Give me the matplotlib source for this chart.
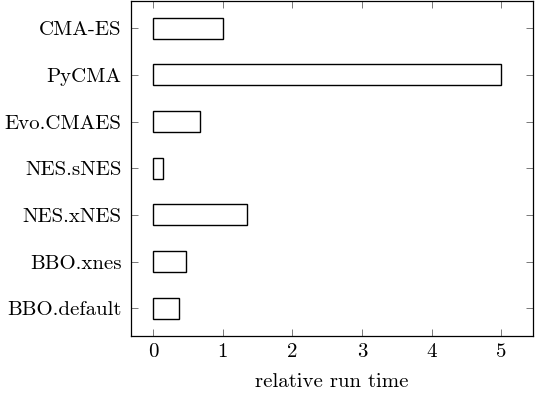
import matplotlib
matplotlib.use("Agg")
import matplotlib.pyplot as plt

plt.rcParams["font.family"] = ["cmr10", "DejaVu Serif"]
plt.rcParams["axes.formatter.use_mathtext"] = True

methods = ["BBO.default", "BBO.xnes", "NES.xNES", "NES.sNES",
           "Evo.CMAES", "PyCMA", "CMA-ES"]
run_time = [0.375, 0.475, 1.35, 0.145, 0.675, 5.0, 1.0]
xticks = [0, 1, 2, 3, 4, 5]

fig = plt.figure(figsize=(5.36, 3.94), dpi=100)
ax = fig.add_axes([0.2438, 0.148, 0.7512, 0.8497])

pos = list(range(len(methods)))
ax.barh(pos, run_time, height=0.45, color="white", edgecolor="black",
        linewidth=1.0)

ax.set_xlim(-0.325, 5.46)
ax.set_ylim(-0.587, 6.585)
ax.set_xticks(xticks)
ax.set_xticklabels([str(t) for t in xticks])
ax.set_yticks(pos)
ax.set_yticklabels(methods)

ax.tick_params(axis="both", direction="in", length=5, width=0.5,
               color="#444444", labelsize=15, top=True, right=True)
ax.tick_params(axis="y", pad=6.5)
ax.tick_params(axis="x", pad=5)
for s in ax.spines.values():
    s.set_linewidth(0.9)

ax.set_xlabel("relative run time", fontsize=15, labelpad=9)

fig.savefig("out.png", dpi=100)
